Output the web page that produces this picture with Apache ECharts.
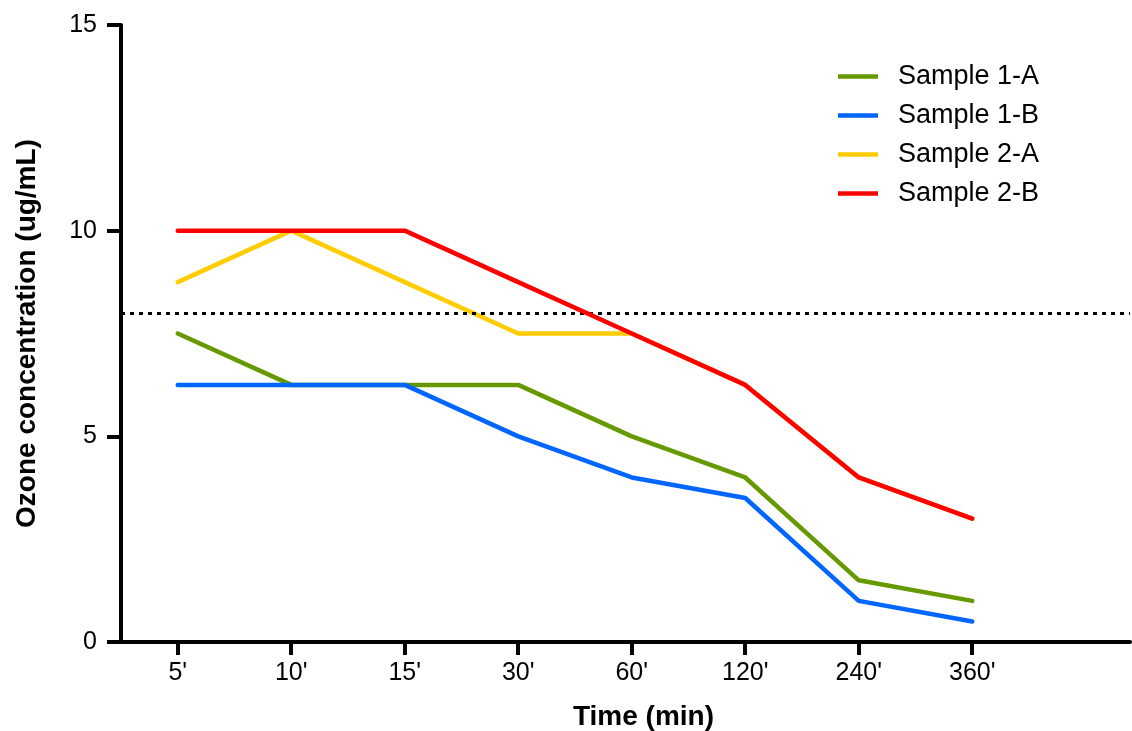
<!DOCTYPE html>
<html>
<head>
<meta charset="utf-8">
<script src="https://cdn.jsdelivr.net/npm/echarts@6/dist/echarts.min.js"></script>
<style>html,body{margin:0;padding:0;background:#fff}#c{width:1132px;height:731px}</style>
</head>
<body>
<div id="c"></div>
<script>
const timeLabels = ["5'", "10'", "15'", "30'", "60'", "120'", "240'", "360'"];
const sample1A = [7.5, 6.25, 6.25, 6.25, 5, 4, 1.5, 1];
const sample1B = [6.25, 6.25, 6.25, 5, 4, 3.5, 1, 0.5];
const sample2A = [8.75, 10, 8.75, 7.5, 7.5, 6.25, 4, 3];
const sample2B = [10, 10, 10, 8.75, 7.5, 6.25, 4, 3];
const thresholdValue = 8;
const yTicks = [0, 5, 10, 15];

const seriesNames = ['Sample 1-A', 'Sample 1-B', 'Sample 2-A', 'Sample 2-B'];
const seriesData = [sample1A, sample1B, sample2A, sample2B];
const seriesColors = ['#669900', '#0066FF', '#FFCC00', '#FF0000'];
const FONT = '"Liberation Sans", Arial, sans-serif';

const chart = echarts.init(document.getElementById('c'), null, {renderer: 'canvas'});

const series = seriesNames.map((name, i) => ({
  name: name,
  type: 'line',
  data: seriesData[i].map((v, j) => [j, v]),
  symbol: 'none',
  lineStyle: {color: seriesColors[i], width: 4.5, cap: 'round', join: 'round'},
  itemStyle: {color: seriesColors[i]},
  z: 2 + i
}));
series[0].markLine = {
  silent: true,
  symbol: ['none', 'none'],
  label: {show: false},
  lineStyle: {color: '#000', type: [4, 5], width: 3},
  data: [{yAxis: thresholdValue}]
};

chart.setOption({
  animation: false,
  grid: {left: 121, right: 2, top: 25, bottom: 89, containLabel: false, outerBoundsMode: 'none'},
  legend: {
    orient: 'vertical',
    left: 833,
    top: 58,
    itemWidth: 40,
    itemHeight: 14,
    itemGap: 12,
    data: seriesNames.map((n, i) => ({name: n, icon: 'path://M0,0 L40,0 L40,4.5 L0,4.5 Z', itemStyle: {color: seriesColors[i]}})),
    textStyle: {fontFamily: FONT, fontSize: 27, color: '#000', lineHeight: 27, padding: [0, 0, 0, 15]}
  },
  xAxis: {
    type: 'value',
    min: -0.5,
    max: 8.39,
    name: 'Time (min)',
    nameLocation: 'middle',
    nameGap: 61,
    nameTextStyle: {fontFamily: FONT, fontSize: 28, fontWeight: 'bold', color: '#000', padding: [0, 0, 0, 36]},
    axisLine: {show: true, onZero: false, lineStyle: {color: '#000', width: 4}},
    axisTick: {show: true, length: 13, lineStyle: {color: '#000', width: 4}, customValues: timeLabels.map((_, i) => i)},
    axisLabel: {
      fontFamily: FONT, fontSize: 25, color: '#000', margin: 19,
      customValues: timeLabels.map((_, i) => i),
      formatter: v => timeLabels[Math.round(v)]
    },
    splitLine: {show: false}
  },
  yAxis: {
    type: 'value',
    min: 0,
    max: 15,
    interval: 5,
    name: 'Ozone concentration (ug/mL)',
    nameLocation: 'middle',
    nameGap: 80,
    nameTextStyle: {fontFamily: FONT, fontSize: 28, fontWeight: 'bold', color: '#000'},
    axisLine: {show: true, onZero: false, lineStyle: {color: '#000', width: 4}},
    axisTick: {show: true, length: 14, lineStyle: {color: '#000', width: 4}},
    axisLabel: {fontFamily: FONT, fontSize: 25, color: '#000', margin: 24, formatter: v => yTicks.includes(v) ? String(v) : ''},
    splitLine: {show: false}
  },
  series: series
});
</script>
</body>
</html>
